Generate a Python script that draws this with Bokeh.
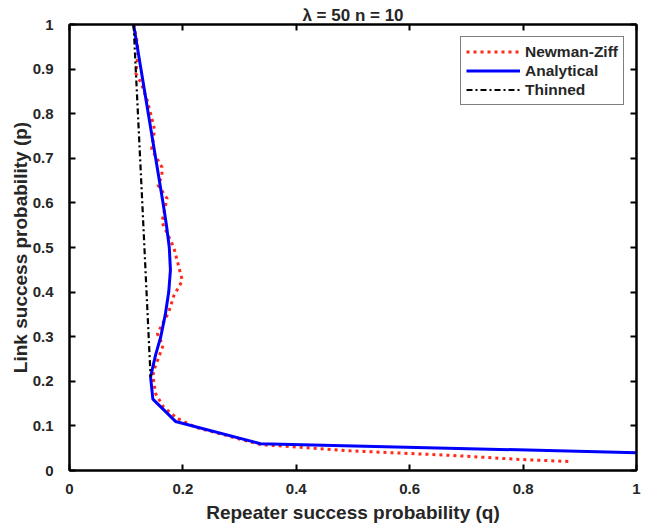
from bokeh.plotting import figure
from bokeh.models import FixedTicker, Legend, LegendItem, Range1d, LinearAxis
from bokeh.embed import file_html
from bokeh.resources import INLINE

# Newman-Ziff (simulation) : repeater prob q, link prob p
nz_q = [0.113, 0.118, 0.121, 0.117, 0.126, 0.137, 0.150, 0.145, 0.163, 0.163,
        0.156, 0.172, 0.163, 0.184, 0.199, 0.184, 0.175, 0.155, 0.165, 0.150,
        0.147, 0.152, 0.166, 0.190, 0.222, 0.278, 0.337, 0.407, 0.496, 0.672,
        0.790, 0.884]
nz_p = [1.000, 0.970, 0.940, 0.890, 0.870, 0.830, 0.765, 0.720, 0.680, 0.660,
        0.640, 0.610, 0.557, 0.500, 0.426, 0.392, 0.355, 0.307, 0.280, 0.229,
        0.213, 0.172, 0.142, 0.117, 0.097, 0.078, 0.058, 0.052, 0.044, 0.034,
        0.025, 0.020]

# Analytical
an_q = [0.113, 0.126, 0.139, 0.152, 0.165, 0.171, 0.176, 0.178, 0.175, 0.169,
        0.161, 0.152, 0.143, 0.147, 0.187, 0.337, 1.000]
an_p = [1.00, 0.90, 0.80, 0.70, 0.60, 0.55, 0.50, 0.45, 0.40, 0.35,
        0.30, 0.26, 0.21, 0.16, 0.11, 0.06, 0.04]

# Thinned
th_q = [0.113, 0.128, 0.143]
th_p = [1.00, 0.61, 0.21]

x_ticks = [0, 0.2, 0.4, 0.6, 0.8, 1]
x_tick_labels = ["0", "0.2", "0.4", "0.6", "0.8", "1"]
y_ticks = [0, 0.1, 0.2, 0.3, 0.4, 0.5, 0.6, 0.7, 0.8, 0.9, 1]
y_tick_labels = ["0", "0.1", "0.2", "0.3", "0.4", "0.5", "0.6", "0.7", "0.8", "0.9", "1"]

title_text = "λ = 50 n = 10"
x_label = "Repeater success probability (q)"
y_label = "Link success probability (p)"

FONT = "Liberation Sans"
TXT = "#262626"

p = figure(width=656, height=531, output_backend="svg", toolbar_location=None,
           x_range=Range1d(0, 1), y_range=Range1d(0, 1),
           min_border_left=69, min_border_right=20, min_border_top=24,
           min_border_bottom=61, title=title_text)
p.title.align = "center"
p.title.text_font = FONT
p.title.text_font_style = "bold"
p.title.text_font_size = "17px"
p.title.text_color = TXT
p.title.standoff = 0
p.title.offset = 0

p.grid.visible = False
p.background_fill_color = "white"
p.border_fill_color = "white"
p.outline_line_color = "black"
p.outline_line_width = 2


def style_axis(ax, labels, ticks):
    ax.ticker = FixedTicker(ticks=ticks)
    ax.major_label_overrides = {t: l for t, l in zip(ticks, labels)}
    ax.axis_line_color = "black"
    ax.axis_line_width = 2
    ax.major_tick_line_color = "black"
    ax.major_tick_line_width = 2
    ax.major_tick_in = 6
    ax.major_tick_out = 0
    ax.minor_tick_line_color = None
    ax.major_label_text_font = FONT
    ax.major_label_text_font_style = "bold"
    ax.major_label_text_font_size = "15px"
    ax.major_label_text_color = TXT
    ax.axis_label_text_font = FONT
    ax.axis_label_text_font_style = "bold"
    ax.axis_label_text_font_size = "19px"
    ax.axis_label_text_color = TXT


xa = p.xaxis[0]
ya = p.yaxis[0]
style_axis(xa, x_tick_labels, x_ticks)
style_axis(ya, y_tick_labels, y_ticks)
xa.axis_label = x_label
ya.axis_label = y_label
xa.major_label_standoff = 13
ya.major_label_standoff = 16
xa.axis_label_standoff = 5
ya.axis_label_standoff = -1

# mirrored inward ticks on the top and right edges of the box (no labels drawn)
for loc, ticks in (("above", x_ticks), ("right", y_ticks)):
    ax = LinearAxis(ticker=FixedTicker(ticks=ticks))
    ax.axis_line_color = "black"
    ax.axis_line_width = 2
    ax.major_tick_line_color = "black"
    ax.major_tick_line_width = 2
    ax.major_tick_in = 6
    ax.major_tick_out = 0
    ax.minor_tick_line_color = None
    ax.major_label_text_color = None
    ax.major_label_text_font_size = "1px"
    ax.major_label_standoff = 0
    p.add_layout(ax, loc)

r_nz = p.line(nz_q, nz_p, line_color="#ff2a1a", line_width=3, line_dash="3 4")
r_an = p.line(an_q, an_p, line_color="#0000ff", line_width=3)
r_th = p.line(th_q, th_p, line_color="black", line_width=2.2, line_dash="6 3 2 3")

legend = Legend(items=[LegendItem(label="Newman-Ziff", renderers=[r_nz]),
                       LegendItem(label="Analytical", renderers=[r_an]),
                       LegendItem(label="Thinned", renderers=[r_th])],
                location="top_right")
legend.label_text_font = FONT
legend.label_text_font_style = "bold"
legend.label_text_font_size = "15.5px"
legend.label_text_color = TXT
legend.border_line_color = "black"
legend.border_line_width = 1
legend.glyph_width = 54
legend.glyph_height = 19
legend.label_height = 19
legend.label_standoff = 5
legend.spacing = 0
legend.padding = 5
legend.margin = 12
legend.background_fill_alpha = 1
p.add_layout(legend)

open("out.html", "w").write(file_html(p, INLINE))
